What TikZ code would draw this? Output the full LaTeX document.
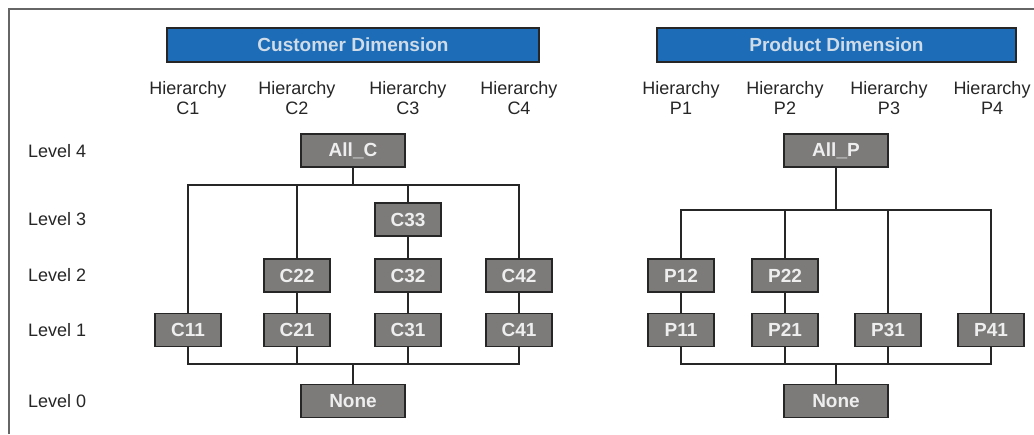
\documentclass[tikz,border=0pt]{standalone}
\usepackage{fontspec}
\setmainfont{Liberation Sans}
\usepackage{tikz}

\definecolor{dimblue}{HTML}{1C6CB8}
\definecolor{boxgray}{HTML}{7C7B7A}
\definecolor{boxtext}{HTML}{EEEEEE}

\begin{document}
\begin{tikzpicture}[x=1pt,y=-1pt]
			\tikzstyle{every node}+=[inner sep=0pt]
			\tikzstyle{dimbox}=[draw=black!85,line width=1.8pt,fill=dimblue,minimum height=34pt,text=boxtext!85!dimblue,font=\fontsize{19}{22}\selectfont\bfseries]
			\tikzstyle{lvlbox}=[draw=black!85,line width=1.8pt,fill=boxgray,minimum width=66pt,minimum height=33pt,text=boxtext,font=\fontsize{19}{22}\selectfont\bfseries]
			\tikzstyle{hier}=[align=center,font=\fontsize{18}{20}\selectfont,text=black!85]
			\tikzstyle{lvl}=[anchor=west,font=\fontsize{18}{20}\selectfont,text=black!85]
			\tikzstyle{link}=[draw=black!85,line width=1.8pt]
			\useasboundingbox (0,0) rectangle (1034,434);
			\draw [black!60,line width=1.2pt] (9,434) -- (9,9) -- (1034,9);
			% dimension headers
			\node [dimbox,minimum width=372pt] (cdim) at (353,45) {Customer Dimension};
			\node [dimbox,minimum width=359pt] (pdim) at (836.5,45) {Product Dimension};
			% hierarchy captions
			\node [hier] (hc1) at (188,98) {Hierarchy\\C1};
			\node [hier] (hc2) at (297,98) {Hierarchy\\C2};
			\node [hier] (hc3) at (408,98) {Hierarchy\\C3};
			\node [hier] (hc4) at (519,98) {Hierarchy\\C4};
			\node [hier] (hp1) at (681,98) {Hierarchy\\P1};
			\node [hier] (hp2) at (785,98) {Hierarchy\\P2};
			\node [hier] (hp3) at (889,98) {Hierarchy\\P3};
			\node [hier] (hp4) at (992,98) {Hierarchy\\P4};
			% levels
			\node [lvl] (l4) at (28,151) {Level 4};
			\node [lvl] (l3) at (28,219) {Level 3};
			\node [lvl] (l2) at (28,275) {Level 2};
			\node [lvl] (l1) at (28,330) {Level 1};
			\node [lvl] (l0) at (28,401) {Level 0};
			% customer members
			\node [lvlbox,minimum width=104pt] (allc) at (353,150.5) {All\_C};
			\node [lvlbox] (c33) at (408,219.5) {C33};
			\node [lvlbox] (c22) at (297,275.5) {C22};
			\node [lvlbox] (c32) at (408,275.5) {C32};
			\node [lvlbox] (c42) at (519,275.5) {C42};
			\node [lvlbox] (c11) at (188,330) {C11};
			\node [lvlbox] (c21) at (297,330) {C21};
			\node [lvlbox] (c31) at (408,330) {C31};
			\node [lvlbox] (c41) at (519,330) {C41};
			\node [lvlbox,minimum width=104pt] (cnone) at (353,401) {None};
			% product members
			\node [lvlbox,minimum width=104pt] (allp) at (836,150.5) {All\_P};
			\node [lvlbox] (p12) at (681,275.5) {P12};
			\node [lvlbox] (p22) at (785,275.5) {P22};
			\node [lvlbox] (p11) at (681,330) {P11};
			\node [lvlbox] (p21) at (785,330) {P21};
			\node [lvlbox] (p31) at (888,330) {P31};
			\node [lvlbox] (p41) at (991,330) {P41};
			\node [lvlbox,minimum width=104pt] (pnone) at (836,401) {None};
			% customer links
			\coordinate (ctop) at (353,185);
			\coordinate (cbot) at (353,364);
			\draw [link] (allc) -- (ctop);
			\draw [link] (c11.north) |- (ctop);
			\draw [link] (c42.north) |- (ctop);
			\draw [link] (c22.north) -- (c22.north |- ctop);
			\draw [link] (c33.north) -- (c33.north |- ctop);
			\draw [link] (c33) -- (c32);
			\draw [link] (c32) -- (c31);
			\draw [link] (c22) -- (c21);
			\draw [link] (c42) -- (c41);
			\draw [link] (c11.south) |- (cbot);
			\draw [link] (c41.south) |- (cbot);
			\draw [link] (c21.south) -- (c21.south |- cbot);
			\draw [link] (c31.south) -- (c31.south |- cbot);
			\draw [link] (cbot) -- (cnone);
			% product links
			\coordinate (ptop) at (836,210);
			\coordinate (pbot) at (836,364);
			\draw [link] (allp) -- (ptop);
			\draw [link] (p12.north) |- (ptop);
			\draw [link] (p41.north) |- (ptop);
			\draw [link] (p22.north) -- (p22.north |- ptop);
			\draw [link] (p31.north) -- (p31.north |- ptop);
			\draw [link] (p12) -- (p11);
			\draw [link] (p22) -- (p21);
			\draw [link] (p11.south) |- (pbot);
			\draw [link] (p41.south) |- (pbot);
			\draw [link] (p21.south) -- (p21.south |- pbot);
			\draw [link] (p31.south) -- (p31.south |- pbot);
			\draw [link] (pbot) -- (pnone);
		\end{tikzpicture}
\end{document}
